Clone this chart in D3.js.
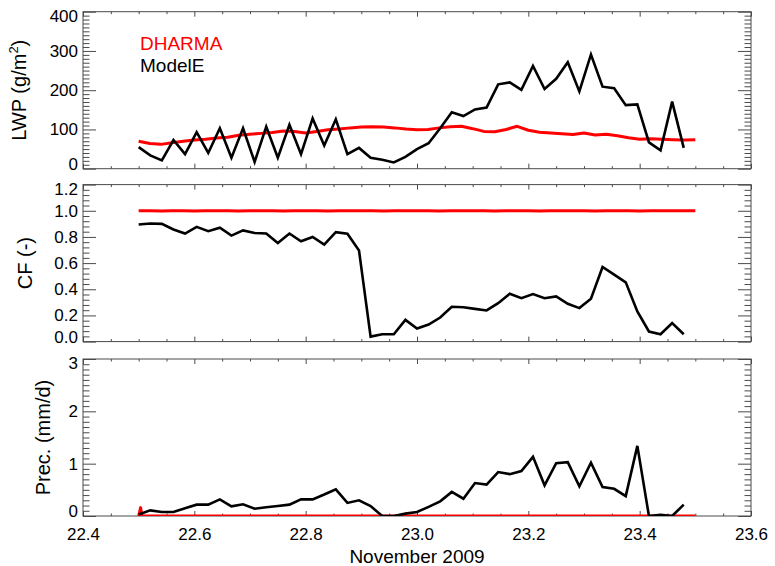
<!DOCTYPE html>
<html>
<head>
<meta charset="utf-8">
<script src="https://cdn.jsdelivr.net/npm/d3@7"></script>
<style>
  body { margin: 0; background: #fff; }
  svg { display: block; font-family: "Liberation Sans", Arial, Helvetica, sans-serif; }
</style>
</head>
<body>
<svg id="chart" width="775" height="566"></svg>
<script>
// ModelE output: half-hourly samples starting at day 22.5 (November 2009)
const modelStart = 22.5;
const modelStepDays = 1 / 48;
const modelLWP = [55, 34, 21, 73, 37, 93, 40, 103, 28, 103, 17, 107, 28, 112, 37, 128,
  59, 126, 37, 53, 28, 23, 16, 30, 50, 65, 103, 144, 134, 151, 156, 215,
  220, 201, 262, 203, 229, 271, 197, 291, 209, 205, 162, 164, 67, 47, 171, 53];
const modelCF = [0.895, 0.903, 0.900, 0.857, 0.826, 0.877, 0.844, 0.870, 0.810, 0.850, 0.830, 0.826,
  0.754, 0.826, 0.767, 0.800, 0.742, 0.836, 0.824, 0.696, 0.038, 0.056, 0.056, 0.166,
  0.100, 0.130, 0.184, 0.266, 0.263, 0.250, 0.238, 0.294, 0.366, 0.332, 0.363, 0.332,
  0.345, 0.289, 0.256, 0.327, 0.570, 0.512, 0.453, 0.230, 0.077, 0.056, 0.141, 0.056];
const modelPrec = [0.03, 0.108, 0.076, 0.076, 0.15, 0.217, 0.217, 0.318, 0.185, 0.223, 0.14, 0.166,
  0.19, 0.217, 0.318, 0.318, 0.41, 0.51, 0.25, 0.30, 0.19, 0.0, 0.0, 0.045,
  0.076, 0.175, 0.28, 0.46, 0.33, 0.63, 0.60, 0.84, 0.80, 0.86, 1.13, 0.586,
  1.01, 1.03, 0.567, 1.02, 0.554, 0.52, 0.38, 1.34, 0.0, 0.025, 0.0, 0.217];

// DHARMA output every 0.02 day from 22.50 to 23.50
const dharmaStart = 22.5;
const dharmaStepDays = 0.02;
const dharmaLWP = [70, 64, 62, 66, 70, 73, 75, 78, 80, 85, 88, 90, 92, 96, 95, 91,
  95, 99, 101, 104, 106, 107, 106, 104, 101, 99, 100, 104, 107, 108, 102, 95,
  94, 100, 108, 98, 93, 91, 89, 87, 91, 86, 88, 84, 79, 75, 76, 75, 74, 73, 74];
const dharmaCF = [1.0, 1.0, 0.999, 1.0, 1.0, 0.999, 1.0, 1.0, 1.0, 0.999, 1.0, 1.0, 1.0, 0.999, 1.0, 1.0,
  1.0, 0.999, 1.0, 1.0, 1.0, 1.0, 0.999, 1.0, 1.0, 1.0, 1.0, 0.999, 1.0, 1.0, 1.0, 1.0,
  0.999, 1.0, 1.0, 1.0, 0.999, 1.0, 1.0, 1.0, 1.0, 0.999, 1.0, 1.0, 1.0, 0.999, 1.0, 1.0, 1.0, 1.0, 1.0];
const dharmaPrecTime = [22.500, 22.5035, 22.506, 23.500];
const dharmaPrec = [0, 0.16, 0, 0];

// Axis ticks and labels
const xMajorTicks = [22.4, 22.6, 22.8, 23.0, 23.2, 23.4, 23.6];
const xTickLabels = ["22.4", "22.6", "22.8", "23.0", "23.2", "23.4", "23.6"];
const lwpTicks = [0, 100, 200, 300, 400];
const lwpTickLabels = ["0", "100", "200", "300", "400"];
const cfTicks = [0, 0.2, 0.4, 0.6, 0.8, 1.0, 1.2];
const cfTickLabels = ["0.0", "0.2", "0.4", "0.6", "0.8", "1.0", "1.2"];
const precTicks = [0, 1, 2, 3];
const precTickLabels = ["0", "1", "2", "3"];

const modelTime = modelLWP.map((_, i) => modelStart + i * modelStepDays);
const dharmaTime = dharmaLWP.map((_, i) => dharmaStart + i * dharmaStepDays);

const svg = d3.select("#chart");
const plotLeft = 83, plotRight = 751, panelHeight = 157;
const axisColor = "#4a4a4a";

const x = d3.scaleLinear().domain([22.4, 23.6]).range([plotLeft, plotRight]);
const xMinorTicks = d3.range(22.4, 23.6001, 0.05).filter(v => !xMajorTicks.some(m => Math.abs(m - v) < 1e-6));

const panels = [
  { top: 11.7, domain: [0, 400], major: lwpTicks, labels: lwpTickLabels, minorStep: 10,
    model: modelLWP, dharmaX: dharmaTime, dharma: dharmaLWP, title: "LWP", titleX: 26 },
  { top: 184.6, domain: [0, 1.2], major: cfTicks, labels: cfTickLabels, minorStep: 0.04,
    model: modelCF, dharmaX: dharmaTime, dharma: dharmaCF, title: "CF (-)", titleX: 32 },
  { top: 359, domain: [0, 3], major: precTicks, labels: precTickLabels, minorStep: 0.1,
    model: modelPrec, dharmaX: dharmaPrecTime, dharma: dharmaPrec, title: "Prec. (mm/d)", titleX: 50 }
];

function styleAxis(sel) {
  sel.select(".domain").remove();
  sel.selectAll(".tick line").attr("stroke", axisColor).attr("stroke-width", 1);
}

panels.forEach((p, pi) => {
  const bottom = p.top + panelHeight;
  const y = d3.scaleLinear().domain(p.domain).range([bottom, p.top]);
  const g = svg.append("g");
  const clipId = "clip" + pi;
  svg.append("clipPath").attr("id", clipId)
    .append("rect").attr("x", plotLeft).attr("y", p.top)
    .attr("width", plotRight - plotLeft).attr("height", panelHeight);

  const yMinor = d3.range(p.domain[0], p.domain[1] + p.minorStep / 2, p.minorStep)
    .filter(v => !p.major.some(m => Math.abs(m - v) < 1e-6));

  // y ticks, drawn inward on both sides
  const leftMajor = g.append("g").attr("transform", `translate(${plotLeft},0)`)
    .call(d3.axisLeft(y).tickValues(p.major).tickSize(-13).tickPadding(5)
      .tickFormat((d, i) => p.labels[i]));
  styleAxis(leftMajor);
  leftMajor.selectAll("text")
    .attr("fill", "#000").attr("font-size", 17)
    .attr("font-family", "Liberation Sans, Arial, sans-serif")
    .attr("y", d => d === p.domain[0] ? -5 : (d === p.domain[1] ? 4 : 0));
  styleAxis(g.append("g").attr("transform", `translate(${plotLeft},0)`)
    .call(d3.axisLeft(y).tickValues(yMinor).tickSize(-6.5).tickFormat("")));
  styleAxis(g.append("g").attr("transform", `translate(${plotRight},0)`)
    .call(d3.axisRight(y).tickValues(p.major).tickSize(-13).tickFormat("")));
  styleAxis(g.append("g").attr("transform", `translate(${plotRight},0)`)
    .call(d3.axisRight(y).tickValues(yMinor).tickSize(-6.5).tickFormat("")));

  // x ticks on top and bottom edges
  styleAxis(g.append("g").attr("transform", `translate(0,${p.top})`)
    .call(d3.axisTop(x).tickValues(xMajorTicks).tickSize(-5).tickFormat("")));
  styleAxis(g.append("g").attr("transform", `translate(0,${p.top})`)
    .call(d3.axisTop(x).tickValues(xMinorTicks).tickSize(-2.5).tickFormat("")));
  const isLast = pi === panels.length - 1;
  const bottomMajor = g.append("g").attr("transform", `translate(0,${bottom})`)
    .call(d3.axisBottom(x).tickValues(xMajorTicks).tickSize(-5).tickPadding(12)
      .tickFormat((d, i) => isLast ? xTickLabels[i] : ""));
  styleAxis(bottomMajor);
  bottomMajor.selectAll("text").attr("fill", "#000").attr("font-size", 17)
    .attr("font-family", "Liberation Sans, Arial, sans-serif");
  styleAxis(g.append("g").attr("transform", `translate(0,${bottom})`)
    .call(d3.axisBottom(x).tickValues(xMinorTicks).tickSize(-2.5).tickFormat("")));

  // frame
  g.append("rect").attr("x", plotLeft).attr("y", p.top)
    .attr("width", plotRight - plotLeft).attr("height", panelHeight)
    .attr("fill", "none").attr("stroke", axisColor).attr("stroke-width", 1);

  // series
  const lines = g.append("g").attr("clip-path", `url(#${clipId})`);
  const line = d3.line().x(d => x(d[0])).y(d => y(d[1]));
  lines.append("path")
    .datum(p.dharmaX.map((t, i) => [t, p.dharma[i]]))
    .attr("d", line).attr("fill", "none").attr("stroke", "#ff0000")
    .attr("stroke-width", 3).attr("stroke-linejoin", "round");
  lines.append("path")
    .datum(modelTime.map((t, i) => [t, p.model[i]]))
    .attr("d", line).attr("fill", "none").attr("stroke", "#000")
    .attr("stroke-width", 2.6).attr("stroke-linejoin", "miter");

  // y-axis title
  const cy = p.top + panelHeight / 2;
  const title = svg.append("text")
    .attr("transform", `translate(${p.titleX},${cy}) rotate(-90)`)
    .attr("text-anchor", "middle").attr("font-size", 20).attr("fill", "#000");
  if (pi === 0) {
    title.append("tspan").text("LWP (g/m");
    title.append("tspan").attr("font-size", 13).attr("dy", -8).text("2");
    title.append("tspan").attr("dy", 8).text(")");
  } else {
    title.text(p.title);
  }
});

// x-axis title
svg.append("text").attr("x", x(23.0)).attr("y", 563)
  .attr("text-anchor", "middle").attr("font-size", 19).attr("fill", "#000")
  .text("November 2009");

// legend
svg.append("text").attr("x", 140).attr("y", 50).attr("font-size", 19)
  .attr("fill", "#ff0000").text("DHARMA");
svg.append("text").attr("x", 140).attr("y", 72).attr("font-size", 19)
  .attr("fill", "#000").text("ModelE");
</script>
</body>
</html>
